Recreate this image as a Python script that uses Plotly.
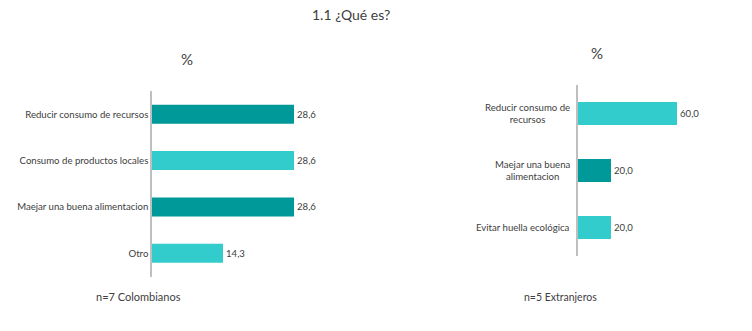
import plotly.graph_objects as go

W, H = 752, 331

# Data
col_cats = ["Reducir consumo de recursos", "Consumo de productos locales",
            "Maejar una buena alimentacion", "Otro"]
col_vals = [28.6, 28.6, 28.6, 14.3]
col_colors = ["#009999", "#33CCCC", "#009999", "#33CCCC"]

ext_cats = ["Reducir consumo de<br>recursos", "Maejar una buena<br>alimentacion",
            "Evitar huella ecológica"]
ext_vals = [60.0, 20.0, 20.0]
ext_colors = ["#33CCCC", "#009999", "#33CCCC"]

title_text = "1.1 ¿Qué es?"
left_note = "n=7 Colombianos"
right_note = "n=5 Extranjeros"
unit_text = "%"

def fmt(v):
    return f"{v:.1f}".replace(".", ",")

def px(x):
    return x / W

def py(y):
    return 1 - y / H

TXT = "#404040"
FONT = "Lato"
FS = 9.6

fig = go.Figure()

fig.add_trace(go.Bar(
    x=col_vals, y=col_cats, orientation="h",
    marker=dict(color=col_colors, line=dict(width=0)),
    width=0.41,
    text=[fmt(v) for v in col_vals], textposition="outside",
    textfont=dict(size=FS, color=TXT, family=FONT),
    cliponaxis=False,
    xaxis="x", yaxis="y", showlegend=False,
))

fig.add_trace(go.Bar(
    x=ext_vals, y=ext_cats, orientation="h",
    marker=dict(color=ext_colors, line=dict(width=0)),
    width=0.4,
    text=[fmt(v) for v in ext_vals], textposition="outside",
    textfont=dict(size=FS, color=TXT, family=FONT),
    cliponaxis=False,
    xaxis="x2", yaxis="y2", showlegend=False,
))

# left axes
lx0 = 152
lrange = 32
fig.update_layout(
    xaxis=dict(domain=[px(lx0), px(lx0 + lrange * 4.965)], range=[0, lrange],
               visible=False, fixedrange=True),
    yaxis=dict(domain=[py(276.5), py(91)], range=[3.5, -0.5],
               showline=True, linecolor="#BFBFBF", linewidth=1.5,
               showgrid=False, zeroline=False, ticks="", ticklen=0,
               tickfont=dict(size=FS, color=TXT, family=FONT),
               anchor="x", categoryorder="array", categoryarray=col_cats),
)

rx0 = 578
rrange = 66
fig.update_layout(
    xaxis2=dict(domain=[px(rx0), px(rx0 + rrange * 1.65)], range=[0, rrange],
                visible=False, fixedrange=True, anchor="y2"),
    yaxis2=dict(domain=[py(256), py(85)], range=[2.5, -0.5],
                showline=True, linecolor="#BFBFBF", linewidth=1.5,
                showgrid=False, zeroline=False, showticklabels=False,
                anchor="x2", categoryorder="array", categoryarray=ext_cats),
)

annotations = []
for c in ext_cats:
    annotations.append(dict(
        x=0, y=c, xref="x2", yref="y2", xanchor="right", yanchor="middle",
        xshift=-6, text=c, showarrow=False, align="center",
        font=dict(size=FS, color=TXT, family=FONT),
    ))

annotations += [
    dict(x=px(351), y=py(15), xref="paper", yref="paper", text=title_text,
         showarrow=False, xanchor="center", yanchor="middle",
         font=dict(size=14, color=TXT, family=FONT)),
    dict(x=px(187), y=py(59), xref="paper", yref="paper", text=unit_text,
         showarrow=False, xanchor="center", yanchor="middle",
         font=dict(size=15, color=TXT, family=FONT)),
    dict(x=px(597), y=py(53), xref="paper", yref="paper", text=unit_text,
         showarrow=False, xanchor="center", yanchor="middle",
         font=dict(size=15, color=TXT, family=FONT)),
    dict(x=px(138), y=py(296), xref="paper", yref="paper", text=left_note,
         showarrow=False, xanchor="center", yanchor="middle",
         font=dict(size=11, color=TXT, family=FONT)),
    dict(x=px(560), y=py(297), xref="paper", yref="paper", text=right_note,
         showarrow=False, xanchor="center", yanchor="middle",
         font=dict(size=10.5, color=TXT, family=FONT)),
]

fig.update_layout(
    width=W, height=H,
    margin=dict(l=0, r=0, t=0, b=0),
    paper_bgcolor="white", plot_bgcolor="white",
    annotations=annotations,
    bargap=0.5,
    font=dict(family=FONT, color=TXT),
)

fig.write_html("out.html")
